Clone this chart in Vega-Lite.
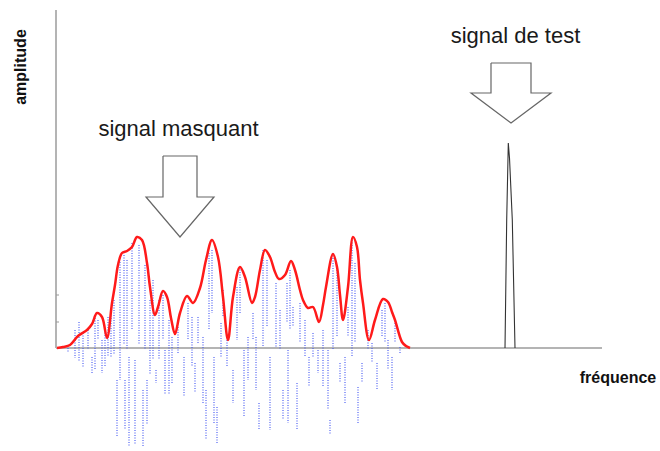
{
  "$schema": "https://vega.github.io/schema/vega-lite/v6.json",
  "width": 660,
  "height": 451,
  "padding": 0,
  "autosize": "none",
  "background": "white",
  "config": {"view": {"stroke": null}},
  "datasets": {
    "env": [
      {"f":1,"a":0},{"f":7,"a":1},{"f":14,"a":3},{"f":22,"a":12},{"f":31,"a":18},{"f":36,"a":24},{"f":41,"a":35},{"f":46,"a":31},{"f":51,"a":10},{"f":56,"a":45},{"f":59,"a":63},{"f":62,"a":83},{"f":66,"a":95},{"f":71,"a":97},{"f":76,"a":101},{"f":81,"a":111},{"f":86,"a":108},{"f":91,"a":85},{"f":94,"a":61},{"f":99,"a":33},{"f":102,"a":41},{"f":107,"a":57},{"f":111,"a":51},{"f":115,"a":30},{"f":119,"a":14},{"f":124,"a":35},{"f":131,"a":52},{"f":137,"a":45},{"f":144,"a":60},{"f":150,"a":88},{"f":156,"a":108},{"f":162,"a":91},{"f":167,"a":51},{"f":172,"a":8},{"f":177,"a":51},{"f":184,"a":81},{"f":189,"a":71},{"f":196,"a":45},{"f":199,"a":51},{"f":204,"a":78},{"f":209,"a":98},{"f":214,"a":91},{"f":219,"a":76},{"f":223,"a":69},{"f":229,"a":73},{"f":235,"a":87},{"f":239,"a":78},{"f":244,"a":58},{"f":247,"a":48},{"f":252,"a":40},{"f":257,"a":41},{"f":263,"a":26},{"f":267,"a":43},{"f":270,"a":61},{"f":277,"a":94},{"f":281,"a":81},{"f":284,"a":53},{"f":287,"a":28},{"f":292,"a":61},{"f":297,"a":111},{"f":301,"a":101},{"f":304,"a":68},{"f":307,"a":45},{"f":313,"a":8},{"f":319,"a":28},{"f":327,"a":49},{"f":332,"a":46},{"f":336,"a":36},{"f":339,"a":28},{"f":346,"a":6},{"f":350,"a":2},{"f":354,"a":0}
    ],
    "sig": [
      {"f":12,"a":0,"a2":-5},{"f":19,"a":18,"a2":-10},{"f":23,"a":26,"a2":-14},{"f":27,"a":15,"a2":-20},{"f":32,"a":18,"a2":-2},{"f":36,"a":-9,"a2":-25},{"f":39,"a":30,"a2":-22},{"f":42,"a":28,"a2":8},{"f":46,"a":8,"a2":-25},{"f":49,"a":18,"a2":-19},{"f":52,"a":31,"a2":-9},{"f":55,"a":40,"a2":-9},{"f":58,"a":48,"a2":-6},{"f":61,"a":-32,"a2":-89},{"f":64,"a":86,"a2":-32},{"f":68,"a":93,"a2":3},{"f":69,"a":-32,"a2":-82},{"f":71,"a":88,"a2":-2},{"f":73,"a":-9,"a2":-99},{"f":76,"a":105,"a2":18},{"f":79,"a":-12,"a2":-97},{"f":83,"a":103,"a2":3},{"f":87,"a":-42,"a2":-99},{"f":89,"a":83,"a2":-2},{"f":91,"a":-32,"a2":-77},{"f":94,"a":48,"a2":-27},{"f":97,"a":68,"a2":-12},{"f":100,"a":-22,"a2":-35},{"f":103,"a":48,"a2":-12},{"f":107,"a":53,"a2":8},{"f":109,"a":-2,"a2":-47},{"f":113,"a":28,"a2":-47},{"f":116,"a":11,"a2":-35},{"f":122,"a":21,"a2":-5},{"f":128,"a":-9,"a2":-49},{"f":132,"a":45,"a2":8},{"f":136,"a":31,"a2":-19},{"f":139,"a":-15,"a2":-45},{"f":142,"a":31,"a2":5},{"f":147,"a":11,"a2":-55},{"f":150,"a":-42,"a2":-92},{"f":153,"a":95,"a2":18},{"f":156,"a":98,"a2":35},{"f":158,"a":-9,"a2":-75},{"f":161,"a":-59,"a2":-95},{"f":165,"a":25,"a2":-9},{"f":167,"a":58,"a2":31},{"f":171,"a":8,"a2":-19},{"f":177,"a":-22,"a2":-55},{"f":181,"a":61,"a2":8},{"f":184,"a":81,"a2":35},{"f":188,"a":-2,"a2":-69},{"f":192,"a":11,"a2":-32},{"f":197,"a":35,"a2":8},{"f":200,"a":11,"a2":-42},{"f":203,"a":-55,"a2":-82},{"f":207,"a":98,"a2":1},{"f":211,"a":88,"a2":21},{"f":214,"a":-9,"a2":-82},{"f":220,"a":65,"a2":1},{"f":224,"a":38,"a2":-2},{"f":227,"a":-42,"a2":-72},{"f":231,"a":65,"a2":25},{"f":232,"a":-2,"a2":-75},{"f":234,"a":78,"a2":18},{"f":237,"a":41,"a2":21},{"f":241,"a":-35,"a2":-82},{"f":244,"a":45,"a2":5},{"f":249,"a":28,"a2":-9},{"f":253,"a":-9,"a2":-39},{"f":257,"a":15,"a2":-9},{"f":262,"a":-2,"a2":-25},{"f":267,"a":18,"a2":-39},{"f":272,"a":-2,"a2":-62},{"f":274,"a":-72,"a2":-87},{"f":277,"a":95,"a2":-2},{"f":281,"a":78,"a2":11},{"f":284,"a":-15,"a2":-35},{"f":289,"a":-9,"a2":-55},{"f":292,"a":41,"a2":11},{"f":296,"a":108,"a2":-9},{"f":299,"a":85,"a2":5},{"f":302,"a":-39,"a2":-75},{"f":306,"a":-15,"a2":-35},{"f":312,"a":18,"a2":-2},{"f":316,"a":5,"a2":-15},{"f":321,"a":-15,"a2":-42},{"f":326,"a":38,"a2":11},{"f":329,"a":45,"a2":5},{"f":332,"a":8,"a2":-22},{"f":336,"a":-9,"a2":-42},{"f":339,"a":25,"a2":5},{"f":344,"a":1,"a2":-5}
    ],
    "spike": [
      {"f":449,"a":0,"o":1},{"f":450.7,"a":128,"o":2},{"f":452.3,"a":205,"o":3},{"f":453.5,"a":190,"o":4},{"f":456.3,"a":128,"o":5},{"f":459,"a":0,"o":6}
    ],
    "arrows": [
      {"id":"m","o":1,"f":107,"a":192},{"id":"m","o":2,"f":141,"a":192},{"id":"m","o":3,"f":141,"a":151},{"id":"m","o":4,"f":158,"a":151},{"id":"m","o":5,"f":124,"a":111},{"id":"m","o":6,"f":90,"a":151},{"id":"m","o":7,"f":107,"a":151},{"id":"m","o":8,"f":107,"a":192},
      {"id":"t","o":1,"f":435,"a":285},{"id":"t","o":2,"f":475,"a":285},{"id":"t","o":3,"f":475,"a":255},{"id":"t","o":4,"f":495,"a":255},{"id":"t","o":5,"f":455,"a":225},{"id":"t","o":6,"f":415,"a":255},{"id":"t","o":7,"f":435,"a":255},{"id":"t","o":8,"f":435,"a":285}
    ],
    "axes": [
      {"f":0,"f2":0,"a":0,"a2":338},
      {"f":0,"f2":546,"a":0,"a2":0}
    ],
    "ticks": [
      {"f":0,"f2":3,"a":53},
      {"f":0,"f2":3,"a":26}
    ],
    "labels": [
      {"f":122.5,"a":212,"t":"signal masquant"},
      {"f":459.5,"a":305,"t":"signal de test"}
    ],
    "axlab": [
      {"f":-35,"a":281,"t":"amplitude","ang":270},
      {"f":562,"a":-30,"t":"fréquence","ang":0}
    ]
  },
  "layer": [
    {
      "data": {"name": "axes"},
      "mark": {"type": "rule", "color": "#b4b4b4", "strokeWidth": 2},
      "encoding": {
        "x": {"field": "f", "type": "quantitative", "scale": {"domain": [-56, 604], "nice": false, "zero": false}, "axis": null},
        "x2": {"field": "f2"},
        "y": {"field": "a", "type": "quantitative", "scale": {"domain": [-103, 348], "nice": false, "zero": false}, "axis": null},
        "y2": {"field": "a2"}
      }
    },
    {
      "data": {"name": "ticks"},
      "mark": {"type": "rule", "color": "#999999", "strokeWidth": 1},
      "encoding": {
        "x": {"field": "f", "type": "quantitative"},
        "x2": {"field": "f2"},
        "y": {"field": "a", "type": "quantitative"}
      }
    },
    {
      "data": {"name": "sig"},
      "mark": {"type": "rule", "color": "#4457f2", "strokeWidth": 1.5, "strokeDash": [1, 1.5], "opacity": 0.75},
      "encoding": {
        "x": {"field": "f", "type": "quantitative"},
        "y": {"field": "a", "type": "quantitative"},
        "y2": {"field": "a2"}
      }
    },
    {
      "data": {"name": "env"},
      "mark": {"type": "line", "color": "#ff1a1a", "strokeWidth": 2.5, "interpolate": "catmull-rom"},
      "encoding": {
        "x": {"field": "f", "type": "quantitative"},
        "y": {"field": "a", "type": "quantitative"}
      }
    },
    {
      "data": {"name": "spike"},
      "mark": {"type": "line", "color": "#333333", "strokeWidth": 1.1},
      "encoding": {
        "x": {"field": "f", "type": "quantitative"},
        "y": {"field": "a", "type": "quantitative"},
        "order": {"field": "o"}
      }
    },
    {
      "data": {"name": "arrows"},
      "mark": {"type": "line", "color": "#666666", "strokeWidth": 1.2, "strokeJoin": "miter"},
      "encoding": {
        "x": {"field": "f", "type": "quantitative"},
        "y": {"field": "a", "type": "quantitative"},
        "detail": {"field": "id"},
        "order": {"field": "o"}
      }
    },
    {
      "data": {"name": "labels"},
      "mark": {"type": "text", "font": "Liberation Sans", "fontSize": 22, "color": "#1a1a1a", "align": "center", "baseline": "alphabetic"},
      "encoding": {
        "x": {"field": "f", "type": "quantitative"},
        "y": {"field": "a", "type": "quantitative"},
        "text": {"field": "t"}
      }
    },
    {
      "data": {"name": "axlab"},
      "mark": {"type": "text", "font": "Liberation Sans", "fontSize": 16, "fontWeight": "bold", "color": "#111111", "align": "center", "baseline": "middle"},
      "encoding": {
        "x": {"field": "f", "type": "quantitative"},
        "y": {"field": "a", "type": "quantitative"},
        "angle": {"field": "ang", "type": "quantitative", "scale": null},
        "text": {"field": "t"}
      }
    }
  ]
}
